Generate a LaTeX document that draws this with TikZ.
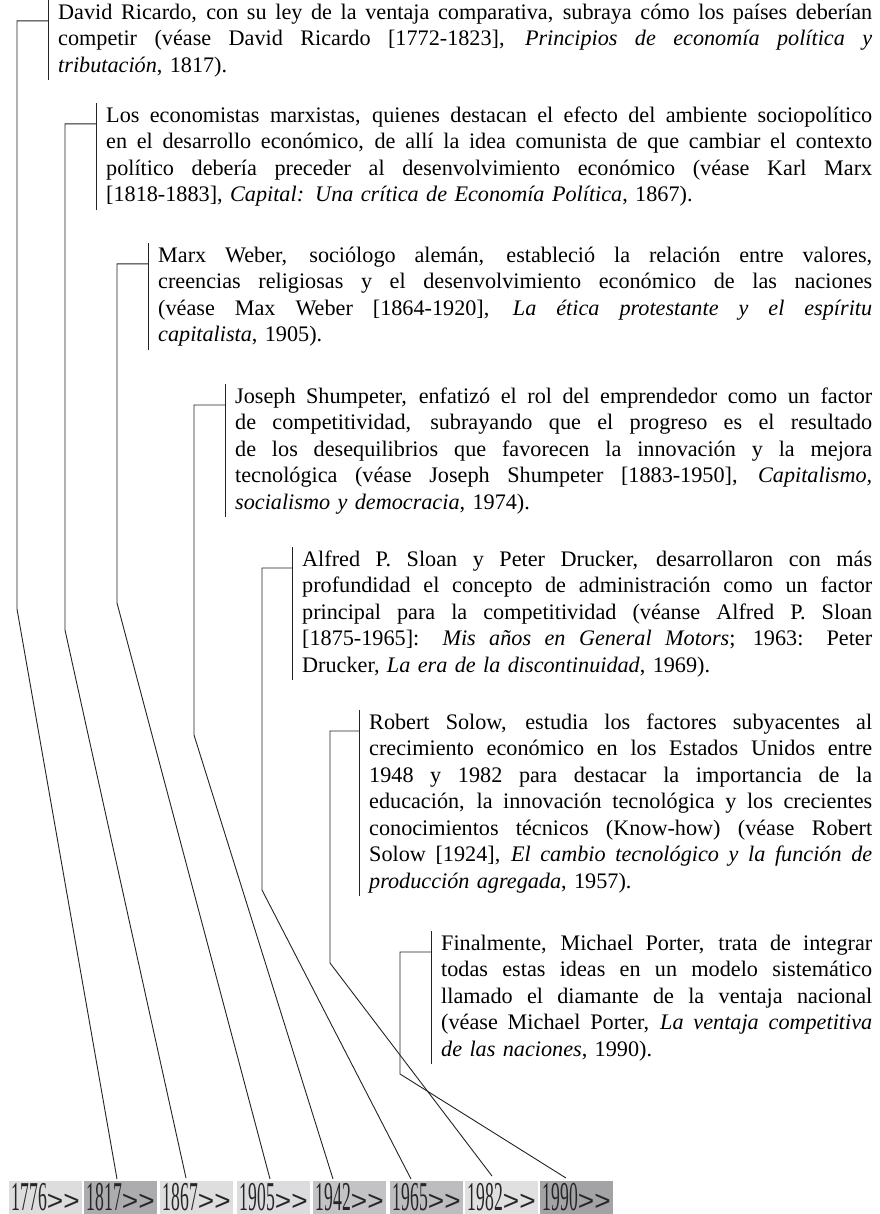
\documentclass[tikz,border=0pt]{standalone}
\usepackage{fontspec}
\setmainfont{Liberation Serif}
\newfontfamily\flechas{Liberation Sans}
\usepackage{graphicx}
\usetikzlibrary{positioning,calc}
\definecolor{trazo}{RGB}{35,35,35}
\definecolor{anioA}{RGB}{221,221,221}
\definecolor{anioB}{RGB}{172,172,174}
\definecolor{anioC}{RGB}{222,222,222}
\definecolor{anioD}{RGB}{220,220,222}
\definecolor{anioE}{RGB}{195,195,197}
\definecolor{anioF}{RGB}{189,189,191}
\definecolor{anioG}{RGB}{224,224,224}
\definecolor{anioH}{RGB}{163,163,165}
\newlength\anchobloque
\newcommand\renglon[1]{\leavevmode\hbox to\anchobloque{\spaceskip=0pt\xspaceskip=0pt #1}}
\newcommand\anio[1]{\scalebox{0.43}[1]{\fontsize{41}{41}\selectfont#1}{\flechas\fontsize{28}{28}\selectfont>{}>}}

\begin{document}
\begin{tikzpicture}[x=1pt,y=-1pt,
  bloque/.style={anchor=north west,inner sep=0pt,align=left,text width=#1,
                 font={\fontsize{22.2}{26.5}\selectfont\parindent=0pt},
                 execute at begin node={\setlength{\anchobloque}{#1}}},
  caja/.style={anchor=north west,inner sep=0pt,minimum width=73pt,
               minimum height=33pt,text height=27.7pt,text depth=1.5pt,text=black!85},
  barra/.style={line width=0.9pt,draw=trazo},
  enlace/.style={line width=0.9pt,draw=trazo}]

  \useasboundingbox (0,0) rectangle (879,1214);

  \node[bloque=814pt] (ricardo) at (58,0.45) {
    \renglon{\strut David Ricardo, con su ley de la ventaja comparativa, subraya cómo los países deberían}\\
    \renglon{competir (véase David Ricardo [1772-1823], \textit{Principios de economía política y}}\\
    \strut\textit{tributación}, 1817).
  };
  \node[bloque=766pt] (marx) at (106,103.45) {
    \renglon{\strut Los economistas marxistas, quienes destacan el efecto del ambiente sociopolítico}\\
    \renglon{en el desarrollo económico, de allí la idea comunista de que cambiar el contexto}\\
    \renglon{político debería preceder al desenvolvimiento económico (véase Karl Marx}\\
    \strut[1818-1883], \textit{Capital: Una crítica de Economía Política}, 1867).
  };
  \node[bloque=714pt] (weber) at (158,243.45) {
    \renglon{\strut Marx Weber, sociólogo alemán, estableció la relación entre valores,}\\
    \renglon{creencias religiosas y el desenvolvimiento económico de las naciones}\\
    \renglon{(véase Max Weber [1864-1920], \textit{La ética protestante y el espíritu}}\\
    \strut\textit{capitalista}, 1905).
  };
  \node[bloque=637pt] (shumpeter) at (235,384.45) {
    \renglon{\strut Joseph Shumpeter, enfatizó el rol del emprendedor como un factor}\\
    \renglon{de competitividad, subrayando que el progreso es el resultado}\\
    \renglon{de los desequilibrios que favorecen la innovación y la mejora}\\
    \renglon{tecnológica (véase Joseph Shumpeter [1883-1950], \textit{Capitalismo,}}\\
    \strut\textit{socialismo y democracia}, 1974).
  };
  \node[bloque=570pt] (sloan) at (302,547.45) {
    \renglon{\strut Alfred P. Sloan y Peter Drucker, desarrollaron con más}\\
    \renglon{profundidad el concepto de administración como un factor}\\
    \renglon{principal para la competitividad (véanse Alfred P. Sloan}\\
    \renglon{[1875-1965]: \textit{Mis años en General Motors}; 1963: Peter}\\
    \strut Drucker, \textit{La era de la discontinuidad}, 1969).
  };
  \node[bloque=503pt] (solow) at (369,710.45) {
    \renglon{\strut Robert Solow, estudia los factores subyacentes al}\\
    \renglon{crecimiento económico en los Estados Unidos entre}\\
    \renglon{1948 y 1982 para destacar la importancia de la}\\
    \renglon{educación, la innovación tecnológica y los crecientes}\\
    \renglon{conocimientos técnicos (Know-how) (véase Robert}\\
    \renglon{Solow [1924], \textit{El cambio tecnológico y la función de}}\\
    \strut\textit{producción agregada}, 1957).
  };
  \node[bloque=431pt] (porter) at (441,931.45) {
    \renglon{\strut Finalmente, Michael Porter, trata de integrar}\\
    \renglon{todas estas ideas en un modelo sistemático}\\
    \renglon{llamado el diamante de la ventaja nacional}\\
    \renglon{(véase Michael Porter, \textit{La ventaja competitiva}}\\
    \strut\textit{de las naciones}, 1990).
  };

  \node[caja,fill=anioA] (a1776) at (9,1181) {\anio{1776}};
  \node[caja,fill=anioB] (a1817) at (84,1181) {\anio{1817}};
  \node[caja,fill=anioC] (a1867) at (160,1181) {\anio{1867}};
  \node[caja,fill=anioD] (a1905) at (237,1181) {\anio{1905}};
  \node[caja,fill=anioE] (a1942) at (313,1181) {\anio{1942}};
  \node[caja,fill=anioF] (a1965) at (390,1181) {\anio{1965}};
  \node[caja,fill=anioG] (a1982) at (465,1181) {\anio{1982}};
  \node[caja,fill=anioH] (a1990) at (540,1181) {\anio{1990}};

  \draw[barra] ([xshift=-10pt]ricardo.north west) -- ([xshift=-10pt]ricardo.south west);
  \draw[barra] ([xshift=-10pt]marx.north west) -- ([xshift=-10pt]marx.south west);
  \draw[barra] ([xshift=-10pt]weber.north west) -- ([xshift=-10pt]weber.south west);
  \draw[barra] ([xshift=-10pt]shumpeter.north west) -- ([xshift=-10pt]shumpeter.south west);
  \draw[barra] ([xshift=-10pt]sloan.north west) -- ([xshift=-10pt]sloan.south west);
  \draw[barra] ([xshift=-10pt]solow.north west) -- ([xshift=-10pt]solow.south west);
  \draw[barra] ([xshift=-10pt]porter.north west) -- ([xshift=-10pt]porter.south west);

  \coordinate (codoRicardo) at (17,609);
  \coordinate (codoMarx) at (65,630);
  \coordinate (codoWeber) at (117,603);
  \coordinate (codoShumpeter) at (194,735);
  \coordinate (codoSloan) at (262,890);
  \coordinate (codoSolow) at (330,963);
  \coordinate (codoPorter) at (400,1074);

  \draw[enlace] ([shift={(-10pt,-20.5pt)}]ricardo.north west) -| (codoRicardo) -- ([shift={(33pt,2pt)}]a1817.north west);
  \draw[enlace] ([shift={(-10pt,-20.5pt)}]marx.north west) -| (codoMarx) -- ([shift={(26pt,3pt)}]a1867.north west);
  \draw[enlace] ([shift={(-10pt,-20.5pt)}]weber.north west) -| (codoWeber) -- ([shift={(33pt,2pt)}]a1905.north west);
  \draw[enlace] ([shift={(-10pt,-20.5pt)}]shumpeter.north west) -| (codoShumpeter) -- ([shift={(20pt,2pt)}]a1942.north west);
  \draw[enlace] ([shift={(-10pt,-20.5pt)}]sloan.north west) -| (codoSloan) -- ([shift={(21pt,2pt)}]a1965.north west);
  \draw[enlace] ([shift={(-10pt,-20.5pt)}]solow.north west) -| (codoSolow) -- ([shift={(27pt,5pt)}]a1982.north west);
  \draw[enlace] ([shift={(-10pt,-20.5pt)}]porter.north west) -| (codoPorter) -- ([shift={(26pt,3pt)}]a1990.north west);
\end{tikzpicture}
\end{document}
